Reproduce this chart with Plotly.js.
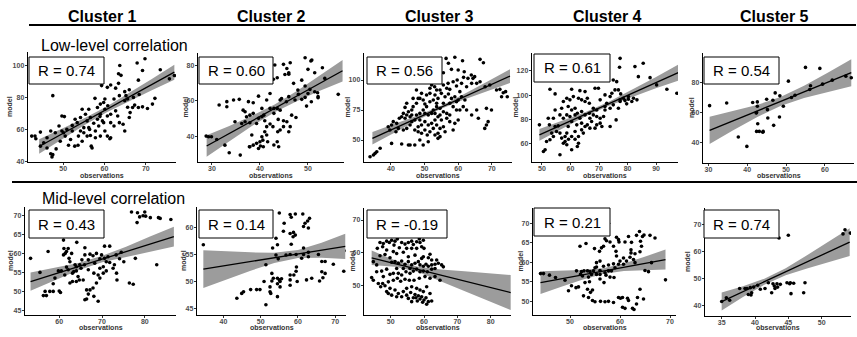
<!DOCTYPE html>
<html><head><meta charset="utf-8">
<script src="https://cdn.plot.ly/plotly-3.0.1.min.js"></script>
<style>html,body{margin:0;padding:0;background:#fff}#chart{width:857px;height:337px}</style>
</head><body><div id="chart"></div><script>
const clusterNames = ['Cluster 1','Cluster 2','Cluster 3','Cluster 4','Cluster 5'];
const rowTitles = ['Low-level correlation','Mid-level correlation'];
const rValues = ['0.74','0.60','0.56','0.61','0.54','0.43','0.14','-0.19','0.21','0.74'];

// ---- Low-level correlation ----
const c1Low = [[69.8,104.4],[67.9,101.7],[69.2,97],[63.7,100.2],[64,94],[73.5,97.5],[75.7,91.8],[76.9,93.9],[68.2,91],[66,85],[63.4,95],[61.5,88],[59.3,87.6],[60.7,86.5],[62.7,86],[63.4,89],[64.9,83.8],[65.2,81.3],[67,80.2],[68.4,82],[69.2,74.3],[70.4,73.3],[72.2,79.6],[71.6,76],[65.6,74],[66.8,73.9],[66,67.6],[64.9,59.2],[64.5,63.4],[63.6,64.4],[61.5,69.7],[62.7,71.8],[60.8,75],[59.8,77],[59,76],[60.1,79.2],[62.3,79.2],[57.7,79.6],[56.2,72.8],[56.6,67.6],[55.4,69.7],[54.6,72.8],[54.2,67.6],[52.9,66.5],[52.2,62.7],[53.4,64.4],[55,61.3],[56.2,61.3],[57.4,64],[58.3,66.5],[59,69.7],[59.5,65.5],[58.6,62.3],[57.8,59.2],[56.6,56.4],[55.8,56],[55,58.1],[54.6,52.8],[53.6,50.3],[52.8,49.7],[51.8,53.9],[50.5,56],[49.7,59.2],[50.9,60.2],[50.3,68.2],[49.7,68.6],[47.5,81.3],[49,62.3],[48.1,58.1],[46.1,55],[45.3,51.8],[44.5,49.7],[43.2,56],[42.4,56],[43.4,54.3],[44.5,58.5],[47,59.2],[46.1,48.6],[47,45],[47.5,44.4],[47.3,43],[48.3,48],[49.3,52.8],[51.3,50.3],[53.7,56],[52.2,59.2],[50.1,58.1],[56.8,49.7],[57,48.6],[57.8,55],[59,56],[60.1,59.2],[61.5,55],[62.3,62.3],[61.5,64.4],[60.7,68.6],[60.1,72.8],[58.3,73.9],[60.7,56],[63.2,68.6],[64.9,78.1],[63.6,81.3],[65.6,79.2],[67.3,75.4],[68.2,73.9],[66.2,70.7],[58.9,68.2],[59.8,64.4],[55.8,65.5],[54.2,59.2],[56.4,60.2],[61.3,54.3]];
const c1LowFitX = [44.2, 76.9], c1LowFitY = [49.5, 96.0];
const c1LowBandX = [44.2, 49.65, 55.1, 60.55, 66.0, 71.45, 76.9];
const c1LowBandLo = [45.0, 54.05, 62.8, 70.95, 78.1, 84.75, 91.3];
const c1LowBandHi = [54.0, 60.45, 67.2, 74.55, 82.9, 91.75, 100.7];

const c2Low = [[43.1,80],[44.9,80.4],[46.3,81.3],[49.4,84.1],[50.6,82.3],[50.8,82.8],[45.6,78.1],[46,75.7],[45.2,74.7],[46,74.9],[43.6,72.9],[50,77.6],[51.4,75.7],[53,78.5],[53.5,72.5],[48.7,71.5],[47,69.7],[49.4,68.2],[50.4,66.3],[51.4,65],[52,64.4],[52.1,61.6],[50,64],[48,63.5],[48.7,60.7],[47.3,60.3],[46,62.2],[44.5,61.2],[44.2,60.3],[45.5,59.3],[56.3,63.5],[49.7,56.9],[42.9,55.6],[42.1,55.6],[41.4,60.3],[39.7,62.5],[40.4,55.6],[38.6,58.8],[37.6,59.4],[35.7,60.7],[34.5,60.3],[33.1,59.4],[33.1,56.5],[31.5,57.5],[36.5,54.6],[36.9,53.7],[37.2,50.9],[37.9,51.8],[38.6,52.8],[36.9,48.1],[36.2,47.1],[34.8,48.1],[37.9,47.5],[39.7,50],[40.4,50.9],[40.8,51.8],[42.9,52.8],[43.6,55.6],[44.2,54.6],[43.8,49.4],[44.9,48.6],[44.9,45.3],[45.6,48.1],[46.6,51.8],[47.5,50.5],[46.3,45.3],[46,42.4],[44.2,43.4],[43.7,42.4],[43.6,36.8],[43.9,34],[42.9,35],[41.6,36.8],[41.4,40.6],[41,42.4],[40.4,39.6],[40.6,37.7],[40,36.8],[39.3,35.9],[40.1,34.4],[40.7,34],[39.7,33],[38.6,34.9],[37.9,34],[38.3,40.6],[37.8,34],[35.9,29.3],[33.6,30.6],[32.7,34.9],[31,38.1],[29.9,39.6],[28.8,40],[29.3,39.6],[39.3,47.1],[41.4,45.3],[42.1,46.8],[42.7,45.3],[41,48.6],[52.1,62.2],[50.7,59.3],[47.9,65.9],[42.1,64],[42.8,72],[49.4,61.8]];
const c2LowFitX = [28.9, 57.2], c2LowFitY = [34.4, 76.8];
const c2LowBandX = [28.9, 33.62, 38.33, 43.05, 47.77, 52.48, 57.2];
const c2LowBandLo = [28.4, 37.27, 45.63, 53.4, 59.77, 65.53, 70.8];
const c2LowBandHi = [40.4, 45.67, 51.43, 57.8, 65.57, 73.93, 82.8];

const c3Low = [[56.4,118],[59,118.9],[61.3,116.1],[66.5,117.2],[67.5,114.4],[54.6,115.3],[57.1,113.9],[60,108.3],[58,108.9],[55.6,106.1],[61.8,106.9],[63.9,104.2],[62.9,101.4],[61.6,102.2],[64.4,101.4],[64.9,102.8],[59.7,100],[58.5,98.6],[57,97.2],[55.6,95.8],[54,99.4],[53,94.4],[52.1,95.8],[51.6,93.1],[53.6,91.7],[54.6,91.7],[56.6,93.1],[59.5,95],[61,97.2],[62.5,94.4],[64,97.2],[65.5,97.2],[66.5,98.6],[68,94.4],[69.4,95.8],[71.4,91.7],[72.4,92.2],[73.4,89.4],[72.9,86.1],[74.1,90.3],[68.4,76.4],[68.9,65.3],[68.4,62.5],[67.9,59.7],[65.5,75],[66,68.1],[64,70.8],[62.5,75],[61.5,77.8],[60.5,75],[59.5,75],[62,83.3],[61,86.1],[60,83.3],[59,86.1],[58,84.7],[57.1,88.3],[56.1,86.1],[55,88.9],[54,84.7],[53.1,87.5],[51.6,88.9],[50.6,87.5],[49.6,83.3],[48.1,84.7],[49.1,88.9],[47.6,80.6],[46.6,77.8],[46.2,75],[45.2,73.6],[44.7,70.8],[44.2,68.1],[43.2,69.4],[42.5,68.1],[41.7,63.9],[40.7,65.3],[40.2,62.5],[39.2,61.1],[39.7,58.3],[41.5,56.9],[42.2,59.7],[43.7,58.3],[44.7,59.7],[45.7,62.5],[46.2,65.3],[47.1,66.7],[47.6,70.8],[48.6,72.2],[49.6,75],[50.6,77.8],[50.1,72.2],[51.1,70.8],[52.1,72.2],[52.6,75],[53.6,77.8],[54.6,76.4],[55.6,73.6],[56.6,72.2],[57.5,70.8],[56.6,68.1],[55,66.7],[54,69.4],[53.1,66.7],[52.1,63.9],[51.1,62.5],[50.1,65.3],[49.1,62.5],[48.1,61.1],[47.1,58.3],[48.1,56.9],[49.1,55.6],[50.1,58.3],[50.8,54.2],[51.6,56.9],[52.6,59.7],[53.6,62.5],[54.6,59.7],[54,55.6],[54.6,52.8],[54,51.4],[53.1,54.2],[55.6,61.1],[56.1,56.9],[48.6,50],[47.1,45.8],[45.2,45.8],[45.7,45.8],[43.2,46.7],[40.2,47.2],[49.6,45.8],[51.1,48.6],[36.8,43.1],[35.8,40.3],[34.8,37.5],[33.8,36.1],[35.3,38.9],[58.5,58.3],[59,63.9],[60,66.7],[57.5,65.3],[43.7,72.2],[45.7,69.4],[48.6,66.7],[50.1,80],[51.6,81.9],[52.6,83.3],[53.6,80.6],[55.6,80.6],[57.5,80.6],[58.5,77.8],[59.5,81.9],[60.5,90.3],[57.5,92.2],[47.6,91.7],[48.6,84.7],[46.6,84.7],[44.7,80.6],[44.2,77.2],[46.2,70.8],[53.1,72.2],[54.6,70.8],[69.9,75],[74.6,86.1]];
const c3LowFitX = [34.5, 75.4], c3LowFitY = [51.4, 103.3];
const c3LowBandX = [34.5, 41.32, 48.13, 54.95, 61.77, 68.58, 75.4];
const c3LowBandLo = [46.2, 56.55, 66.8, 76.05, 83.7, 90.65, 97.6];
const c3LowBandHi = [56.6, 63.55, 70.6, 78.65, 88.3, 98.65, 109.0];

const c4Low = [[77.4,130.4],[77.2,123],[82.6,123.6],[85.5,126.3],[83.8,115.3],[87.9,114.5],[68.6,105.8],[69.8,105.8],[65.1,103],[66.9,113.2],[75,112.6],[76.2,111.2],[75.6,104.4],[76.8,104.4],[77.6,101.1],[52.8,104.9],[54.6,101.1],[60.4,104.9],[63.3,103.8],[72.1,100.3],[73.9,98.9],[81.5,94.8],[80.3,96.7],[79.1,95.6],[78.5,97.5],[79.7,92.9],[77.4,94.8],[75,92.1],[72.7,93.4],[70.4,96.2],[72.1,90.7],[69.2,87.9],[68,89.3],[66.6,93.4],[65.1,94.8],[65.9,97.5],[63.9,96.2],[62.8,97.5],[61,98.9],[59.8,96.2],[58.7,97.5],[57.5,94.8],[56.9,89.3],[59.2,90.7],[60.4,87.9],[61.6,89.3],[62.4,85.2],[63.9,86.6],[65.1,83.8],[66.6,85.2],[68,83.8],[69.2,82.5],[70.4,81.1],[70.4,77],[69.2,75.6],[68.6,72.9],[66.8,72.9],[65.9,75.6],[65.1,74.2],[63.9,71.5],[62.2,75.6],[60.4,78.4],[59.8,82.5],[58.7,83.8],[57.5,81.1],[56.3,83.8],[54.6,87.9],[54,81.1],[52.2,81.1],[52.6,75.6],[54.6,74.2],[55.7,74.8],[55.1,70.1],[56.3,68.8],[56.9,64.7],[58.7,68.8],[58.1,66],[59.3,63.8],[58.1,61.9],[58.7,59.2],[57.5,60.5],[60.4,66],[61.6,63.8],[62.8,66],[62.8,60.5],[62.4,57.8],[60.4,55.1],[56.3,51],[51.1,55.1],[50.5,53.7],[51.6,61.9],[52.8,63.3],[54,66],[53.4,68.8],[49.1,75.6],[72.1,87.9],[73.9,89.3],[76.8,89.3],[76,79.7],[73.9,74.2],[71,74.2],[71.6,82.5],[77.4,96.2],[82.1,97.5],[83.3,96.2],[80.3,98.9],[90.2,108.5],[93.8,104.9],[97.3,101.6],[74.5,101.6],[61.6,83.8],[63.3,81.1],[66.8,81.1],[67.4,78.4],[63.9,77],[59.2,74.2],[61.6,70.1],[64.5,68.8]];
const c4LowFitX = [49.1, 97.8], c4LowFitY = [67.4, 118.6];
const c4LowBandX = [49.1, 57.22, 65.33, 73.45, 81.57, 89.68, 97.8];
const c4LowBandLo = [62.6, 72.83, 82.67, 91.3, 98.63, 105.47, 112.0];
const c4LowBandHi = [72.2, 79.03, 86.27, 94.7, 104.43, 114.67, 125.2];

const c5Low = [[30.3,64.6],[34.7,66.4],[37.7,43.4],[39.9,37.1],[41.4,66.7],[42.6,67.1],[42.6,64.2],[42.4,59.9],[42.3,59.7],[42.7,52.4],[42.4,47.2],[43.1,47.2],[44.1,47.2],[44,46.6],[45.3,56.3],[45.2,61.9],[45,68.9],[46.6,68.2],[46.8,51.3],[47.2,73.2],[48.4,71.2],[48.3,56.9],[49.3,64.2],[50.6,81.1],[51.4,70.1],[52.3,71.6],[55,90.4],[56.1,75.5],[56.3,78],[58.7,89.7],[59.4,79.1],[61.9,81.8],[65.4,84.5],[66.8,83.4]];
const c5LowFitX = [30.3, 66.8], c5LowFitY = [47.9, 86.8];
const c5LowBandX = [30.3, 36.38, 42.47, 48.55, 54.63, 60.72, 66.8];
const c5LowBandLo = [38.7, 47.98, 56.77, 64.35, 69.73, 73.92, 77.7];
const c5LowBandHi = [57.1, 60.78, 64.97, 70.35, 77.93, 86.72, 95.9];

// ---- Mid-level correlation ----
const c1Mid = [[53.3,58.8],[76.9,71],[78.3,70.8],[80,71],[79.6,70],[78.8,69.7],[80.2,69.9],[81.3,69.5],[83.2,69.5],[83.6,69.3],[86.1,69],[78.2,68.2],[57.4,60.6],[55.5,55.1],[56.7,50.1],[57.8,50.1],[58.6,50.1],[60,50.2],[60.3,49.8],[56.3,49],[57,49],[58.6,52.1],[59,53.6],[59.8,55.5],[60.5,55.5],[61.3,54.4],[61.7,56.5],[62.5,57.9],[61,59.7],[61.4,60.1],[61.7,60.6],[61.1,61.4],[62.1,61.4],[62.9,60.1],[62.3,58.8],[61,63.6],[64.1,63],[66,61.6],[63.4,55.3],[64,56.6],[65.1,56.2],[65.9,57.1],[66.8,55.8],[68.1,54.9],[69.1,54.4],[69.5,56.2],[70.3,56.6],[68.3,57.5],[67.2,59.9],[67.9,59.5],[68.7,60.1],[69.9,59.7],[69.5,58.7],[70.6,58.8],[71.4,59.2],[71,57.9],[71.8,57.7],[72.9,57.1],[71.8,62],[70.6,62],[73.3,59.7],[74.1,58.7],[74.5,60.4],[75.1,57.9],[73.4,54.9],[73.5,53.1],[72.6,56.2],[71,55.5],[70.3,54.9],[69.5,53.6],[68.7,52.3],[67.9,51],[67.2,50.5],[66.8,49.4],[66.4,48.1],[66,47.9],[68.1,48.8],[69.1,47.5],[66.4,50.5],[65.6,53.1],[64.7,53.1],[64,52.7],[64.4,54],[63.7,57.1],[64.8,57.1],[65.3,58.4],[66,59.7],[66.8,58.4],[63.1,54.9],[62.5,52.3],[63.1,52.7],[76.4,52.3],[77.3,52],[77.8,58.8],[82.8,57.1],[64,55.5],[62.1,55.8]];
const c1MidFitX = [53.3, 86.8], c1MidFitY = [52.7, 64.5];
const c1MidBandX = [53.3, 58.88, 64.47, 70.05, 75.63, 81.22, 86.8];
const c1MidBandLo = [50.3, 53.07, 55.68, 57.75, 59.27, 60.53, 61.9];
const c1MidBandHi = [55.1, 56.27, 57.58, 59.45, 61.87, 64.53, 67.1];

const c2Mid = [[34.6,56.8],[55,62.7],[57.9,62.4],[58.2,61.9],[59.3,62.5],[61.3,62.5],[63.1,61.7],[62.6,61.2],[61.9,60.8],[62.8,59.9],[61.5,60.2],[56.3,60.8],[56.1,59.3],[57.9,58.9],[58.8,59.1],[59.3,58.6],[58.7,58.3],[58.2,56.9],[54.1,58],[53.2,56.2],[54.5,56.8],[54.1,54.9],[54.7,54.2],[56.8,54.9],[57.9,55],[59.5,55],[61,54.3],[61.5,55],[61.5,56.2],[62.8,55.4],[62.8,54.6],[65.5,55],[66.4,53.7],[67.3,53.7],[69.5,53.2],[66.4,51.8],[67.3,51.5],[66.7,50.7],[65.8,50.1],[63.7,50.6],[62.3,50.3],[59.6,52.7],[59.5,51.9],[58.9,51.2],[57.9,51.2],[57.9,50.3],[59.8,50],[57.9,49.3],[55.2,50],[55,50.3],[54.5,50.6],[55.6,50.5],[55.2,49],[54.5,49.6],[53.4,50.6],[53,50.1],[53,51.5],[52.5,49],[50.9,50],[51.4,53.1],[49.8,48.5],[48.9,48.5],[47.3,48.5],[45.4,48.1],[44.9,47.8],[43.6,46.9],[52.5,48.1],[52.7,47.8],[54.5,47.2],[51.4,45.7],[72.3,51.9],[73.2,55.7]];
const c2MidFitX = [34.6, 72.7], c2MidFitY = [52.3, 56.5];
const c2MidBandX = [34.6, 40.95, 47.3, 53.65, 60.0, 66.35, 72.7];
const c2MidBandLo = [48.8, 50.4, 52.0, 53.45, 54.35, 54.4, 54.15];
const c2MidBandHi = [55.8, 55.6, 55.4, 55.35, 55.85, 57.2, 58.85];

const c3Mid = [[46.8,63.1],[47.8,62.8],[48.8,63.5],[49.6,63.1],[50.3,63.8],[51.3,63.5],[52,64.2],[51,62.3],[53.3,63.1],[54.3,62.6],[55.3,63.1],[56.3,63.5],[56.8,62.5],[57.8,63.3],[58.8,63.1],[58.6,64.2],[59.8,63.8],[59.3,61.8],[60,61.3],[56.3,61.3],[54.8,61.3],[52.6,61.5],[50.8,60.3],[51.8,59.7],[53.8,60.1],[57.8,61.3],[46.8,59],[48.3,59.4],[49.8,58.4],[50.3,57],[51.3,57.2],[52.3,56.7],[53.3,57.4],[54.3,56.4],[55.3,57.2],[56.3,56.2],[57.3,56.7],[58.3,57.2],[58.8,56.2],[59.8,55.8],[60.6,56.4],[61.3,55.8],[62.3,56.2],[63.3,56.4],[63.8,57.7],[64.3,56.7],[65.3,56.2],[65.8,55.6],[62.3,54.9],[61,54.1],[59.8,54.3],[58.8,54.1],[57.8,54.9],[56.8,54.3],[55.8,53.6],[54.6,54.1],[53.3,53.1],[52.3,53.6],[50.8,53.6],[48.8,54.9],[47.3,54.3],[45.8,56.2],[44.8,57.2],[44.3,52.3],[44.8,51.5],[46.3,50.5],[47.6,50.5],[48.3,49.8],[47,49.5],[49.3,51],[50.8,51.5],[52,52.1],[53,51.2],[54.3,51.8],[55.6,51.5],[57,51.5],[58.6,52.1],[60.3,52.6],[61.8,52.1],[63.3,52.6],[64.8,51.5],[49.8,49],[51.3,48.5],[48.8,48],[49.3,47.4],[52.3,47.4],[53.8,48],[54.8,49],[56.3,49.5],[57.8,49],[58.8,48.5],[60.8,49.5],[53.3,46.4],[54.8,46.9],[56,47.7],[57.3,47.1],[57.6,46.1],[58.3,46.7],[58.8,45.7],[59.3,46.4],[60,45.4],[60.6,46.1],[61.3,44.9],[62.3,45.1],[58,45.1],[59.6,44.7],[56.8,46.1],[55.3,45.9],[51.8,46.4],[50.3,46.9],[47.8,52.6],[49.8,53.3],[45.8,54.1],[46,61.3],[59.8,58.7],[61.3,58.4],[62.3,57.7],[61.8,59.5],[63.3,55.1],[59.3,58.2],[57.3,59.2],[55.3,58.7],[48.8,60.8],[47.6,61.8],[55.8,55.1],[53.8,55.1],[51.8,55.1],[59.8,48],[61.8,47.4],[56.3,44.9],[60.8,44.1]];
const c3MidFitX = [44.3, 86.0], c3MidFitY = [58.4, 47.7];
const c3MidBandX = [44.3, 51.25, 58.2, 65.15, 72.1, 79.05, 86.0];
const c3MidBandLo = [56.2, 55.62, 54.03, 51.3, 48.32, 45.28, 42.3];
const c3MidBandHi = [60.6, 57.62, 55.63, 54.8, 54.22, 53.68, 53.1];

const c4Mid = [[44.1,57.1],[44.7,57.1],[45.9,56.7],[47.1,56.1],[49,55.4],[49.7,52.7],[50.3,54],[51.2,53.5],[51.7,53.7],[52,64.1],[53.2,64.8],[52.1,56.9],[52.3,57.6],[52.5,56.5],[52.8,57.8],[53.5,57.8],[54,57.6],[54.7,57.8],[55,58.6],[55.3,58.8],[54.9,63.5],[55.9,62.8],[56.3,63.7],[56.7,64.1],[57,66],[57.3,65.5],[58,65.2],[58.7,64.1],[59.3,66.4],[59.7,65.8],[59.8,65.2],[59.2,62.8],[61,65.2],[61.7,66.6],[62.3,65.1],[62.2,63.2],[62.2,62.4],[63,62.2],[63.3,66.9],[63.9,67.9],[64.1,65.4],[64.3,64.1],[64.5,66.6],[64.8,67],[66,66.9],[67,66.2],[64,62.7],[60.7,61.1],[61.3,60.3],[62,61.3],[62.7,60.7],[63,59.9],[60.7,59.5],[59.7,59.5],[58.7,59.6],[57.7,59.3],[56.7,59],[56,57.9],[57,57.3],[57.7,57.8],[58.3,57.8],[59,58.6],[56,56.9],[55.3,56.9],[54.3,56.9],[53.7,56.2],[57.2,56.7],[58,56.2],[58.8,56.1],[56.8,54.8],[56,55.7],[53.9,55],[53,54.8],[53.5,53.1],[54.1,52.3],[54.5,52.9],[52.7,51.4],[53.7,51],[54.5,50.2],[55,49.9],[56.1,50],[57,49.9],[57.7,50],[58.7,49.7],[59.7,51],[60.1,50.8],[60.5,51],[61.5,50.8],[61.7,50.2],[60.5,48.5],[61,48.2],[62.5,48.2],[62.8,47.9],[63.3,49.3],[63.5,51],[64.7,50.6],[64,53.1],[65,57.9],[65.7,57.6],[66.3,59.9],[69.1,55.5],[56,60.3],[55.3,59.9],[59.3,61.6],[60,60.3],[51.3,57.8],[57.7,70]];
const c4MidFitX = [44.1, 69.1], c4MidFitY = [54.8, 60.7];
const c4MidBandX = [44.1, 48.27, 52.43, 56.6, 60.77, 64.93, 69.1];
const c4MidBandLo = [51.9, 53.73, 55.52, 57.0, 57.78, 58.02, 58.15];
const c4MidBandHi = [57.7, 57.83, 58.02, 58.5, 59.68, 61.42, 63.25];

const c5Mid = [[35,41.6],[35.7,43],[36.2,42.1],[37.7,46.4],[38.5,46.4],[38.8,46.4],[39.3,46.7],[39.8,46.9],[39,44.2],[39.4,44],[39.5,44.8],[40.4,47.6],[40.8,46.1],[41.5,46.4],[42,48.5],[42.7,48.1],[42.9,47.3],[43.3,48.1],[43.4,46.9],[43,46.4],[42.5,44.8],[43.8,47.9],[44.8,48.5],[45.2,48.1],[45.3,48.5],[45.8,48.3],[47.5,48.5],[47.3,44.8],[45.4,44.5],[45,65.9],[53.2,66.4],[53.5,67.9],[54.3,66.7],[43.6,64.9]];
const c5MidFitX = [35.0, 54.2], c5MidFitY = [41.6, 63.4];
const c5MidBandX = [35.0, 38.2, 41.4, 44.6, 47.8, 51.0, 54.2];
const c5MidBandLo = [38.3, 43.23, 47.77, 51.2, 53.73, 56.07, 58.3];
const c5MidBandHi = [44.9, 47.23, 49.97, 53.8, 58.53, 63.47, 68.5];

// ---- tick values ----
const xTicks = [[50,60,70],[30,40,50],[40,50,60,70],[50,60,70,80,90],[30,40,50,60],
                [60,70,80],[40,50,60,70],[50,60,70,80],[50,60,70],[35,40,45,50]];
const yTicks = [[40,60,80,100],[40,60,80],[50,75,100],[60,80,100,120],[40,60,80],
                [45,50,55,60,65,70],[45,50,55,60],[50,60,70],[50,55,60,65,70],[40,50,60,70]];

const panels = [
  {pts:c1Low, fx:c1LowFitX, fy:c1LowFitY, bx:c1LowBandX, lo:c1LowBandLo, hi:c1LowBandHi},
  {pts:c2Low, fx:c2LowFitX, fy:c2LowFitY, bx:c2LowBandX, lo:c2LowBandLo, hi:c2LowBandHi},
  {pts:c3Low, fx:c3LowFitX, fy:c3LowFitY, bx:c3LowBandX, lo:c3LowBandLo, hi:c3LowBandHi},
  {pts:c4Low, fx:c4LowFitX, fy:c4LowFitY, bx:c4LowBandX, lo:c4LowBandLo, hi:c4LowBandHi},
  {pts:c5Low, fx:c5LowFitX, fy:c5LowFitY, bx:c5LowBandX, lo:c5LowBandLo, hi:c5LowBandHi},
  {pts:c1Mid, fx:c1MidFitX, fy:c1MidFitY, bx:c1MidBandX, lo:c1MidBandLo, hi:c1MidBandHi},
  {pts:c2Mid, fx:c2MidFitX, fy:c2MidFitY, bx:c2MidBandX, lo:c2MidBandLo, hi:c2MidBandHi},
  {pts:c3Mid, fx:c3MidFitX, fy:c3MidFitY, bx:c3MidBandX, lo:c3MidBandLo, hi:c3MidBandHi},
  {pts:c4Mid, fx:c4MidFitX, fy:c4MidFitY, bx:c4MidBandX, lo:c4MidBandLo, hi:c4MidBandHi},
  {pts:c5Mid, fx:c5MidFitX, fy:c5MidFitY, bx:c5MidBandX, lo:c5MidBandLo, hi:c5MidBandHi}
];

// ---- layout geometry (pixels) ----
const W = 857, H = 337;
const geom = [
  {L:28, R:176, T:52, B:162, xr:[41.5,77.3], yr:[39.8,108.6], box:[29,104,57,84], ml:10},
  {L:198,R:344, T:53, B:162, xr:[27.1,57.5], yr:[25.4,86.8], box:[199,273,57,84], ml:185},
  {L:364,R:512, T:53, B:162, xr:[32,76], yr:[31.7,122.5], box:[367,442,57,84], ml:347},
  {L:532,R:678, T:53, B:162, xr:[46.5,97.7], yr:[45,134.8], box:[534,610,54,82], ml:515},
  {L:703,R:854, T:53, B:163, xr:[28.6,67.5], yr:[25.9,100.1], box:[704,779,57,84], ml:692},
  {L:25, R:176, T:207,B:315, xr:[52,87.3], yr:[43.9,72.3], box:[29,104,210,238], ml:10},
  {L:197,R:346, T:207,B:315, xr:[32.9,72.9], yr:[43.8,63.8], box:[199,273,210,238], ml:183},
  {L:364,R:511, T:208,B:315, xr:[42,86.1], yr:[40.8,73.7], box:[367,447,210,238], ml:352},
  {L:533,R:676, T:208,B:315, xr:[42.6,71.2], yr:[46.5,73.9], box:[534,610,208,236], ml:520},
  {L:705,R:851, T:208,B:316, xr:[32.5,54.4], yr:[36.3,75.9], box:[704,779,210,238], ml:687}
];

const FONT = 'Liberation Sans, Arial, Helvetica, sans-serif';
const traces = [];
const shapes = [];
const annotations = [];
const layout = {
  width: W, height: H, margin:{l:0,r:0,t:0,b:0}, autosize:false,
  paper_bgcolor:'#fff', plot_bgcolor:'#fff', showlegend:false,
  font:{family:FONT}
};

panels.forEach((p, i) => {
  const n = i + 1;
  const xa = 'x' + (n > 1 ? n : ''), ya = 'y' + (n > 1 ? n : '');
  const g = geom[i];
  traces.push({
    x: p.bx.concat(p.bx.slice().reverse()),
    y: p.hi.concat(p.lo.slice().reverse()),
    mode:'lines', fill:'toself', fillcolor:'#9c9c9c', line:{width:0, color:'rgba(0,0,0,0)'},
    xaxis:xa, yaxis:ya, hoverinfo:'skip'
  });
  traces.push({
    x: p.pts.map(d => d[0]), y: p.pts.map(d => d[1]),
    mode:'markers', marker:{color:'#000', size:3.6},
    xaxis:xa, yaxis:ya
  });
  traces.push({
    x: p.fx, y: p.fy, mode:'lines', line:{color:'#000', width:1.3},
    xaxis:xa, yaxis:ya
  });
  const axCommon = {
    showgrid:false, zeroline:false, showline:true, linecolor:'#000', linewidth:1.3,
    ticks:'outside', ticklen:2, tickwidth:1, tickcolor:'#333',
    tickfont:{family:FONT, size:7, color:'#4d4d4d', weight:'bold'},
    fixedrange:true
  };
  layout['xaxis' + (n > 1 ? n : '')] = Object.assign({}, axCommon, {
    domain:[g.L / W, g.R / W], range:g.xr, anchor:ya, tickmode:'array', tickvals:xTicks[i],
    ticklabelstandoff:-3
  });
  layout['yaxis' + (n > 1 ? n : '')] = Object.assign({}, axCommon, {
    domain:[1 - g.B / H, 1 - g.T / H], range:g.yr, anchor:xa, tickmode:'array', tickvals:yTicks[i],
    ticklabelstandoff:-1
  });
  // R box
  shapes.push({type:'rect', xref:'paper', yref:'paper',
    x0:g.box[0] / W, x1:g.box[1] / W, y0:1 - g.box[3] / H, y1:1 - g.box[2] / H,
    line:{color:'#000', width:1}, fillcolor:'#fff', layer:'above'});
  annotations.push({xref:'paper', yref:'paper', x:(g.box[0] + g.box[1]) / 2 / W,
    y:1 - (g.box[2] + g.box[3]) / 2 / H, text:'R = ' + rValues[i], showarrow:false,
    xanchor:'center', yanchor:'middle', font:{family:FONT, size:15, color:'#000'}});
  // axis titles
  annotations.push({xref:'paper', yref:'paper', x:g.ml / W, y:1 - (g.T + g.B) / 2 / H,
    text:'model', textangle:-90, showarrow:false, xanchor:'center', yanchor:'middle',
    font:{family:FONT, size:7, color:'#333', weight:'bold'}});
  annotations.push({xref:'paper', yref:'paper', x:(g.L + g.R) / 2 / W,
    y:1 - (i < 5 ? 175.5 : 327.5) / H, text:'observations', showarrow:false,
    xanchor:'center', yanchor:'middle',
    font:{family:FONT, size:7, color:'#333', weight:'bold'}});
});

// cluster headers
const headerX = [102, 271, 439, 607, 774];
clusterNames.forEach((c, j) => {
  annotations.push({xref:'paper', yref:'paper', x:headerX[j] / W, y:1 - 17 / H, text:c,
    showarrow:false, xanchor:'center', yanchor:'middle',
    font:{family:FONT, size:16, color:'#000', weight:'bold'}});
});
// row titles
annotations.push({xref:'paper', yref:'paper', x:39 / W, y:1 - 45 / H, text:rowTitles[0],
  showarrow:false, xanchor:'left', yanchor:'middle', font:{family:FONT, size:16, color:'#000'}});
annotations.push({xref:'paper', yref:'paper', x:40 / W, y:1 - 198 / H, text:rowTitles[1],
  showarrow:false, xanchor:'left', yanchor:'middle', font:{family:FONT, size:16, color:'#000'}});
// separator lines
shapes.push({type:'line', xref:'paper', yref:'paper', x0:29 / W, x1:856 / W, y0:1 - 25 / H, y1:1 - 25 / H,
  line:{color:'#000', width:2}});
shapes.push({type:'line', xref:'paper', yref:'paper', x0:12 / W, x1:857 / W, y0:1 - 182 / H, y1:1 - 182 / H,
  line:{color:'#000', width:2}});

layout.shapes = shapes;
layout.annotations = annotations;
Plotly.newPlot('chart', traces, layout, {staticPlot:true, displayModeBar:false});
</script></body></html>
